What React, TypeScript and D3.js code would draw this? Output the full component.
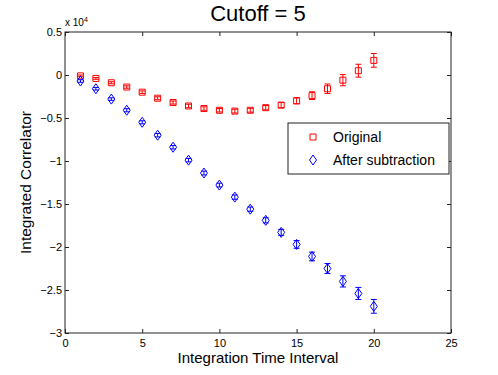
import React, { useEffect, useRef } from "react";
import * as d3 from "d3";

// values in units of 1e4
const steps = [1, 2, 3, 4, 5, 6, 7, 8, 9, 10, 11, 12, 13, 14, 15, 16, 17, 18, 19, 20];
const original = [-0.01, -0.04, -0.09, -0.14, -0.2, -0.27, -0.32, -0.36, -0.39, -0.41, -0.42, -0.41, -0.38, -0.35, -0.3, -0.24, -0.16, -0.06, 0.05, 0.17];
const originalErr = [0.01, 0.01, 0.012, 0.014, 0.015, 0.017, 0.018, 0.02, 0.02, 0.02, 0.022, 0.022, 0.025, 0.03, 0.035, 0.045, 0.055, 0.065, 0.075, 0.08];
const subtracted = [-0.07, -0.16, -0.28, -0.41, -0.55, -0.7, -0.84, -0.99, -1.14, -1.28, -1.42, -1.56, -1.69, -1.83, -1.97, -2.11, -2.25, -2.4, -2.54, -2.69];
const subtractedErr = [0.015, 0.015, 0.015, 0.018, 0.018, 0.02, 0.02, 0.02, 0.022, 0.022, 0.025, 0.025, 0.03, 0.035, 0.045, 0.05, 0.058, 0.065, 0.07, 0.08];
const xTicks = [0, 5, 10, 15, 20, 25];
const yTicks = [0.5, 0, -0.5, -1, -1.5, -2, -2.5, -3];
const seriesNames = ["Original", "After subtraction"];

const App = () => {
  const svgRef = useRef<SVGSVGElement>(null);

  useEffect(() => {
    const margin = { top: 32, right: 47, bottom: 42, left: 65 };
    const W = 498;
    const H = 375;
    const width = W - margin.left - margin.right;
    const height = H - margin.top - margin.bottom;
    const font = "Liberation Sans, Arial, sans-serif";

    const root = d3.select(svgRef.current);
    root.selectAll("*").remove();
    root.attr("width", W).attr("height", H).style("font-family", font);
    root.append("rect").attr("width", W).attr("height", H).attr("fill", "white");

    const svg = root.append("g").attr("transform", `translate(${margin.left},${margin.top})`);

    const x = d3.scaleLinear().domain([0, 25]).range([0, width]);
    const y = d3.scaleLinear().domain([-3, 0.5]).range([height, 0]);

    const fmt = (v: number) => String(v).replace("-", "\u2212");

    // frame
    svg
      .append("rect")
      .attr("width", width)
      .attr("height", height)
      .attr("fill", "none")
      .attr("stroke", "#222")
      .attr("stroke-width", 1);

    const axis = (gen: d3.Axis<d3.NumberValue>, tx: number, ty: number, labels: boolean) => {
      const g = svg.append("g").attr("transform", `translate(${tx},${ty})`).call(gen);
      g.select(".domain").remove();
      g.selectAll(".tick line").attr("stroke", "#222");
      g.selectAll(".tick text")
        .style("font-size", "11px")
        .style("font-family", font)
        .attr("fill", "#000");
      if (!labels) g.selectAll(".tick text").remove();
      return g;
    };

    axis(d3.axisBottom(x).tickValues(xTicks).tickSize(-4).tickPadding(6).tickFormat((d) => fmt(+d)), 0, height, true);
    axis(d3.axisTop(x).tickValues(xTicks).tickSize(-4), 0, 0, false);
    axis(d3.axisLeft(y).tickValues(yTicks).tickSize(-4).tickPadding(3).tickFormat((d) => fmt(+d)), 0, 0, true);
    axis(d3.axisRight(y).tickValues(yTicks).tickSize(-4), width, 0, false);

    // exponent label
    const expo = svg.append("text").attr("x", 0).attr("y", -6).style("font-size", "10px");
    expo.append("tspan").text("x 10");
    expo.append("tspan").attr("dy", -4).style("font-size", "7px").text("4");

    const series = [
      { name: seriesNames[0], vals: original, errs: originalErr, color: "#ff0000", shape: "square" },
      { name: seriesNames[1], vals: subtracted, errs: subtractedErr, color: "#0000ff", shape: "diamond" },
    ];

    const markerPath = (shape: string) =>
      shape === "square" ? "M-3,-3H3V3H-3Z" : "M0,-5L3.5,0L0,5L-3.5,0Z";

    series.forEach((s) => {
      const pts = steps.map((t, i) => ({ t, v: s.vals[i], e: s.errs[i] }));
      const g = svg.append("g");
      const bars = g.selectAll("g.err").data(pts).enter().append("g").attr("class", "err").attr("stroke", s.color).attr("stroke-width", 1);
      bars
        .append("line")
        .attr("x1", (d) => x(d.t))
        .attr("x2", (d) => x(d.t))
        .attr("y1", (d) => y(d.v + d.e))
        .attr("y2", (d) => y(d.v - d.e));
      [1, -1].forEach((sgn) => {
        bars
          .append("line")
          .attr("x1", (d) => x(d.t) - 3)
          .attr("x2", (d) => x(d.t) + 3)
          .attr("y1", (d) => y(d.v + sgn * d.e))
          .attr("y2", (d) => y(d.v + sgn * d.e));
      });
      g.selectAll("path.mk")
        .data(pts)
        .enter()
        .append("path")
        .attr("class", "mk")
        .attr("d", markerPath(s.shape))
        .attr("transform", (d) => `translate(${x(d.t)},${y(d.v)})`)
        .attr("fill", "none")
        .attr("stroke", s.color)
        .attr("stroke-width", 1);
    });

    // legend
    const legend = svg.append("g").attr("transform", `translate(${288 - margin.left},${123 - margin.top})`);
    legend.append("rect").attr("width", 161).attr("height", 51).attr("fill", "white").attr("stroke", "#222").attr("stroke-width", 1);
    series.forEach((s, i) => {
      const ly = 14 + i * 23;
      legend
        .append("path")
        .attr("d", markerPath(s.shape))
        .attr("transform", `translate(25,${ly})`)
        .attr("fill", "none")
        .attr("stroke", s.color);
      legend
        .append("text")
        .attr("x", 45)
        .attr("y", ly + 5)
        .style("font-size", "14px")
        .text(s.name);
    });

    // titles
    svg
      .append("text")
      .attr("x", width / 2)
      .attr("y", -11)
      .attr("text-anchor", "middle")
      .style("font-size", "22px")
      .text("Cutoff = 5");

    svg
      .append("text")
      .attr("x", width / 2)
      .attr("y", height + 30)
      .attr("text-anchor", "middle")
      .style("font-size", "15px")
      .text("Integration Time Interval");

    svg
      .append("text")
      .attr("transform", `translate(-34,${height / 2}) rotate(-90)`)
      .attr("text-anchor", "middle")
      .style("font-size", "15.5px")
      .text("Integrated Correlator");
  }, []);

  return <svg ref={svgRef} style={{ position: "absolute", left: 0, top: 0 }}></svg>;
};

export default App;
